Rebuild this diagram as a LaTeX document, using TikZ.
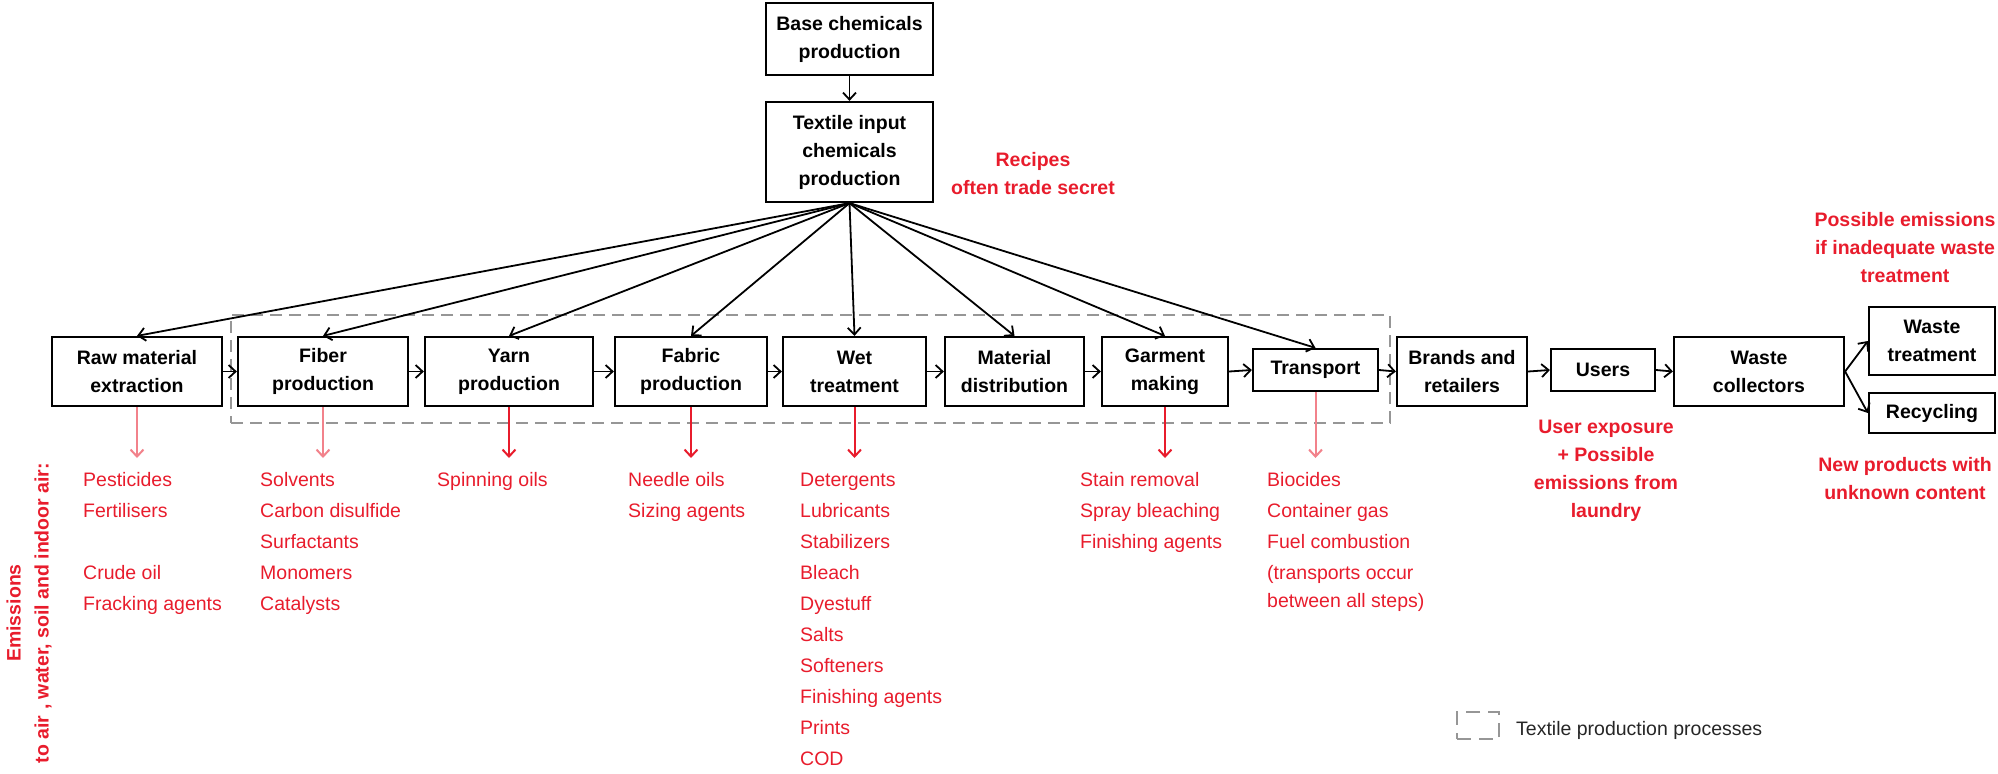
\documentclass[tikz,border=0pt]{standalone}
\usepackage{fontspec}
\setmainfont{Liberation Sans}
\usetikzlibrary{arrows.meta}
\definecolor{emred}{RGB}{232,28,44}
\definecolor{dashgray}{RGB}{150,150,150}
\tikzset{
  box/.style={draw=black, line width=2.2pt, fill=white, inner sep=0pt, align=center,
    font=\bfseries\fontsize{19.5}{28}\selectfont},
  flow/.style={draw=black, line width=1.8pt, -{Straight Barb[length=7pt,width=13pt,line width=1.8pt]}},
  emis/.style={draw=emred, line width=2pt, -{Straight Barb[length=7pt,width=13pt,line width=2pt]}},
  emislight/.style={emis, draw=emred!55},
  redbold/.style={text=emred, font=\bfseries\fontsize{19.5}{28}\selectfont, align=center, inner sep=0pt},
  redlist/.style={text=emred, font=\fontsize{19.5}{31}\selectfont, anchor=base west, inner sep=0pt},
  frame/.style={draw=dashgray, line width=1.6pt, dash pattern=on 12pt off 7pt, inner sep=0pt},
}
\begin{document}
\begin{tikzpicture}[x=1pt,y=-1pt]
\useasboundingbox (0,0) rectangle (1998,774);

% dashed frame of textile production processes
\node[frame, minimum width=1159pt, minimum height=108pt] (tpp) at (810.5,369) {};

% top boxes
\node[box, minimum width=167pt, minimum height=72pt] (base) at (849.5,39) {Base chemicals\\production};
\node[box, minimum width=167pt, minimum height=100pt] (textile) at (849.5,152) {Textile input\\chemicals\\production};

% main row
\node[box, minimum width=170pt, minimum height=69pt] (raw) at (137,371.5) {Raw material\\extraction};
\node[box, minimum width=170pt, minimum height=69pt] (fiber) at (323,371.5) {Fiber\\production};
\node[box, minimum width=168pt, minimum height=69pt] (yarn) at (509,371.5) {Yarn\\production};
\node[box, minimum width=152pt, minimum height=69pt] (fabric) at (691,371.5) {Fabric\\production};
\node[box, minimum width=143pt, minimum height=69pt] (wet) at (854.5,371.5) {Wet\\treatment};
\node[box, minimum width=139pt, minimum height=69pt] (mat) at (1014.5,371.5) {Material\\distribution};
\node[box, minimum width=126pt, minimum height=69pt] (garm) at (1165,371.5) {Garment\\making};
\node[box, minimum width=125pt, minimum height=42pt] (trans) at (1315.5,370) {Transport};
\node[box, minimum width=130pt, minimum height=69pt] (brands) at (1462,371.5) {Brands and\\retailers};
\node[box, minimum width=104pt, minimum height=42pt] (users) at (1603,370) {Users};
\node[box, minimum width=170pt, minimum height=69pt] (wcoll) at (1759,371.5) {Waste\\collectors};
\node[box, minimum width=126pt, minimum height=68pt] (wtreat) at (1932,341) {Waste\\treatment};
\node[box, minimum width=126pt, minimum height=40pt] (recyc) at (1932,413) {Recycling};

% black connectors
\draw[flow] (base) -- (textile);
\foreach \n in {raw,fiber,yarn,fabric,wet,mat,garm,trans}
  \draw[flow] (textile.south) -- (\n.north);
\draw[flow] (raw.east) -- (fiber.west);
\draw[flow] (fiber.east) -- (yarn.west);
\draw[flow] (yarn.east) -- (fabric.west);
\draw[flow] (fabric.east) -- (wet.west);
\draw[flow] (wet.east) -- (mat.west);
\draw[flow] (mat.east) -- (garm.west);
\draw[flow] (garm.east) -- (trans.west);
\draw[flow] (trans.east) -- (brands.west);
\draw[flow] (brands.east) -- (users.west);
\draw[flow] (users.east) -- (wcoll.west);
\draw[flow] (wcoll.east) -- (wtreat.west);
\draw[flow] (wcoll.east) -- (recyc.west);

% red emission arrows
\coordinate (elev) at (0,458);
\draw[emislight] (raw.south) -- (raw.south |- elev);
\draw[emislight] (fiber.south) -- (fiber.south |- elev);
\draw[emis] (yarn.south) -- (yarn.south |- elev);
\draw[emis] (fabric.south) -- (fabric.south |- elev);
\draw[emis] (wet.south) -- (wet.south |- elev);
\draw[emis] (garm.south) -- (garm.south |- elev);
\draw[emislight] (trans.south) -- (trans.south |- elev);

% red annotations
\node[redbold] (recipes) at (1033,174) {Recipes\\often trade secret};
\node[redbold] (possem) at (1905,248) {Possible emissions\\if inadequate waste\\treatment};
\node[redbold] (userexp) at (1606,471) {User exposure\\+ Possible\\emissions from\\laundry};
\node[redbold] (newprod) at (1905,479) {New products with\\unknown content};
\node[redbold, rotate=90] (emtxt) at (29,613) {Emissions\\to air , water, soil and indoor air:};

% lists
\node[redlist] (r1) at (83,486) {Pesticides};
\node[redlist] (r2) at (83,517) {Fertilisers};
\node[redlist] (r3) at (83,579) {Crude oil};
\node[redlist] (r4) at (83,610) {Fracking agents};

\node[redlist] (f1) at (260,486) {Solvents};
\node[redlist] (f2) at (260,517) {Carbon disulfide};
\node[redlist] (f3) at (260,548) {Surfactants};
\node[redlist] (f4) at (260,579) {Monomers};
\node[redlist] (f5) at (260,610) {Catalysts};

\node[redlist] (y1) at (437,486) {Spinning oils};

\node[redlist] (fa1) at (628,486) {Needle oils};
\node[redlist] (fa2) at (628,517) {Sizing agents};

\node[redlist] (w1) at (800,486) {Detergents};
\node[redlist] (w2) at (800,517) {Lubricants};
\node[redlist] (w3) at (800,548) {Stabilizers};
\node[redlist] (w4) at (800,579) {Bleach};
\node[redlist] (w5) at (800,610) {Dyestuff};
\node[redlist] (w6) at (800,641) {Salts};
\node[redlist] (w7) at (800,672) {Softeners};
\node[redlist] (w8) at (800,703) {Finishing agents};
\node[redlist] (w9) at (800,734) {Prints};
\node[redlist] (w10) at (800,765) {COD};

\node[redlist] (g1) at (1080,486) {Stain removal};
\node[redlist] (g2) at (1080,517) {Spray bleaching};
\node[redlist] (g3) at (1080,548) {Finishing agents};

\node[redlist] (t1) at (1267,486) {Biocides};
\node[redlist] (t2) at (1267,517) {Container gas};
\node[redlist] (t3) at (1267,548) {Fuel combustion};
\node[redlist] (t4) at (1267,579) {(transports occur};
\node[redlist] (t5) at (1267,607) {between all steps)};

% legend
\node[frame, dash pattern=on 14pt off 8pt, minimum width=42pt, minimum height=27pt] (legbox) at (1478,725.5) {};
\node[anchor=west, inner sep=0pt, font=\fontsize{19.5}{24}\selectfont, text=black!85] (legtxt) at (1516,730) {Textile production processes};
\end{tikzpicture}
\end{document}
